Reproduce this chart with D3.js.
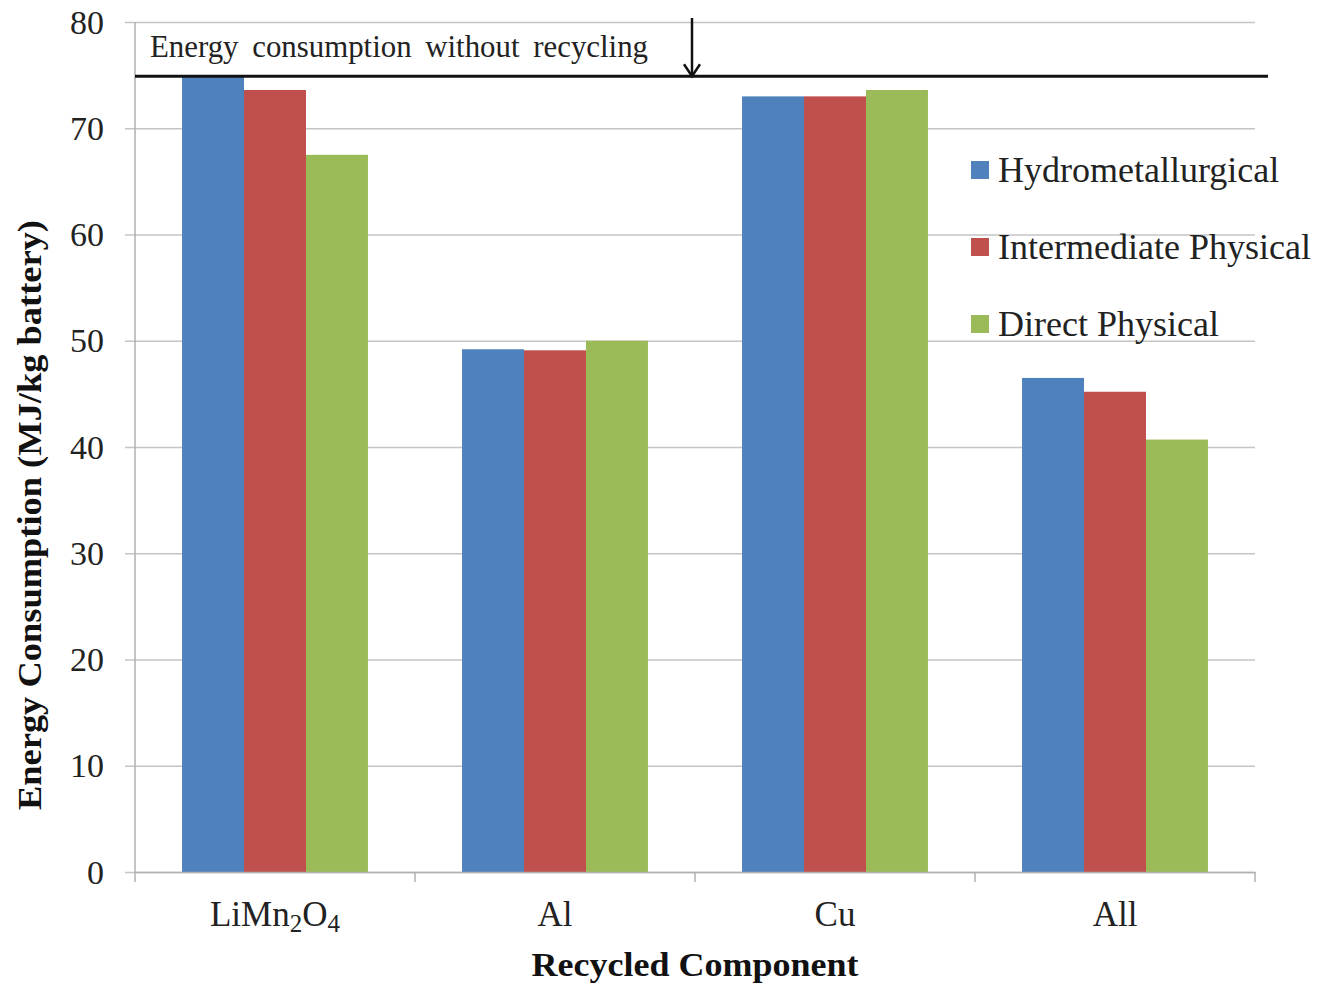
<!DOCTYPE html>
<html>
<head>
<meta charset="utf-8">
<script src="https://cdn.jsdelivr.net/npm/d3@7"></script>
<style>
  body { margin: 0; background: #fff; }
  svg { display: block; font-family: "Liberation Serif", "Times New Roman", serif; }
</style>
</head>
<body>
<svg width="1319" height="985"></svg>
<script>
const categories = ["LiMn2O4", "Al", "Cu", "All"];
const series = ["Hydrometallurgical", "Intermediate Physical", "Direct Physical"];
const hydro = [74.9, 49.2, 73.0, 46.5];
const intermediate = [73.6, 49.1, 73.0, 45.2];
const direct = [67.5, 50.0, 73.6, 40.7];
const yTicks = [0, 10, 20, 30, 40, 50, 60, 70, 80];
const noRecycling = 74.9;

const colors = ["#4f81bd", "#c0504d", "#9bbb59"];
const values = [hydro, intermediate, direct];

const svg = d3.select("svg");
const plotLeft = 135, plotRight = 1255, plotTop = 22, plotBottom = 872;

const x0 = d3.scaleBand().domain(categories).range([plotLeft, plotRight]);
const inset = x0.bandwidth() * 0.168;
const x1 = d3.scaleBand().domain(series).range([inset, x0.bandwidth() - inset]);
const y = d3.scaleLinear().domain([0, 80]).range([plotBottom, plotTop]);

// gridlines + y ticks
svg.append("g")
  .attr("transform", `translate(${plotLeft},0)`)
  .call(d3.axisLeft(y).tickValues(yTicks).tickSize(-(plotRight - plotLeft)).tickFormat(""))
  .call(g => g.select(".domain").remove())
  .call(g => g.selectAll("line").attr("stroke", "#c4c4c4").attr("stroke-width", 1.5).attr("x1", -10));

svg.append("g").selectAll("text")
  .data(yTicks)
  .join("text")
  .attr("x", 104)
  .attr("y", d => y(d))
  .attr("dy", "0.34em")
  .attr("text-anchor", "end")
  .attr("font-size", 34)
  .attr("fill", "#222")
  .text(d => d);

// bars
const rows = categories.map((c, i) => ({ cat: c, vals: series.map((s, j) => ({ s, v: values[j][i], j })) }));
svg.append("g").selectAll("g")
  .data(rows)
  .join("g")
  .attr("transform", d => `translate(${x0(d.cat)},0)`)
  .selectAll("rect")
  .data(d => d.vals)
  .join("rect")
  .attr("x", d => x1(d.s))
  .attr("width", x1.bandwidth())
  .attr("y", d => y(d.v))
  .attr("height", d => y(0) - y(d.v))
  .attr("fill", d => colors[d.j]);

// axes lines
svg.append("line")
  .attr("x1", plotLeft).attr("x2", plotLeft).attr("y1", plotTop).attr("y2", plotBottom)
  .attr("stroke", "#b0b0b0").attr("stroke-width", 1.5);
svg.append("g")
  .attr("transform", `translate(0,${plotBottom})`)
  .call(d3.axisBottom(x0).tickValues([]).tickSizeOuter(0))
  .call(g => g.select(".domain").attr("stroke", "#b0b0b0").attr("stroke-width", 1.5));
svg.append("g").selectAll("line")
  .data(categories.map(c => x0(c)).concat([plotRight]))
  .join("line")
  .attr("x1", d => d).attr("x2", d => d)
  .attr("y1", plotBottom).attr("y2", plotBottom + 10)
  .attr("stroke", "#b0b0b0").attr("stroke-width", 1.5);

// category labels (with subscripts)
const catLabels = svg.append("g").selectAll("text")
  .data(categories)
  .join("text")
  .attr("x", d => x0(d) + x0.bandwidth() / 2)
  .attr("y", 926)
  .attr("text-anchor", "middle")
  .attr("font-size", 35)
  .attr("fill", "#222");
catLabels.each(function (d) {
  const t = d3.select(this);
  const parts = d.match(/[A-Za-z]+|\d+/g);
  parts.forEach((p, k) => {
    if (/\d/.test(p)) {
      t.append("tspan").attr("font-size", 25).attr("dy", 6).text(p);
    } else {
      const ts = t.append("tspan").text(p);
      if (k > 0) ts.attr("dy", -6);
    }
  });
});

// axis titles
svg.append("text")
  .attr("x", (plotLeft + plotRight) / 2)
  .attr("y", 976)
  .attr("text-anchor", "middle")
  .attr("font-size", 33)
  .attr("font-weight", "bold")
  .attr("fill", "#111")
  .attr("textLength", 327)
  .attr("lengthAdjust", "spacingAndGlyphs")
  .text("Recycled Component");

svg.append("text")
  .attr("transform", "translate(41,515) rotate(-90)")
  .attr("text-anchor", "middle")
  .attr("font-size", 33)
  .attr("font-weight", "bold")
  .attr("fill", "#111")
  .attr("textLength", 590)
  .attr("lengthAdjust", "spacingAndGlyphs")
  .text("Energy Consumption (MJ/kg battery)");

// reference line without recycling
svg.append("line")
  .attr("x1", plotLeft).attr("x2", 1268)
  .attr("y1", y(noRecycling)).attr("y2", y(noRecycling))
  .attr("stroke", "#111").attr("stroke-width", 3);
svg.append("text")
  .attr("x", 150).attr("y", 57)
  .attr("font-size", 31)
  .attr("fill", "#222")
  .attr("word-spacing", 6)
  .attr("textLength", 498)
  .attr("lengthAdjust", "spacingAndGlyphs")
  .text("Energy consumption without recycling");
svg.append("line")
  .attr("x1", 692).attr("x2", 692).attr("y1", 18).attr("y2", y(noRecycling) - 1)
  .attr("stroke", "#111").attr("stroke-width", 2.5);
svg.append("path")
  .attr("d", `M684,${y(noRecycling) - 12} L692,${y(noRecycling)} L700,${y(noRecycling) - 12}`)
  .attr("fill", "none").attr("stroke", "#111").attr("stroke-width", 2.5);

// legend
const legend = svg.append("g").selectAll("g")
  .data(series)
  .join("g")
  .attr("transform", (d, i) => `translate(971,${170 + i * 77})`);
legend.append("rect")
  .attr("x", 0).attr("y", -9).attr("width", 18).attr("height", 18)
  .attr("fill", (d, i) => colors[i]);
legend.append("text")
  .attr("x", 27).attr("y", 12)
  .attr("font-size", 36)
  .attr("fill", "#222")
  .text(d => d);
</script>
</body>
</html>
